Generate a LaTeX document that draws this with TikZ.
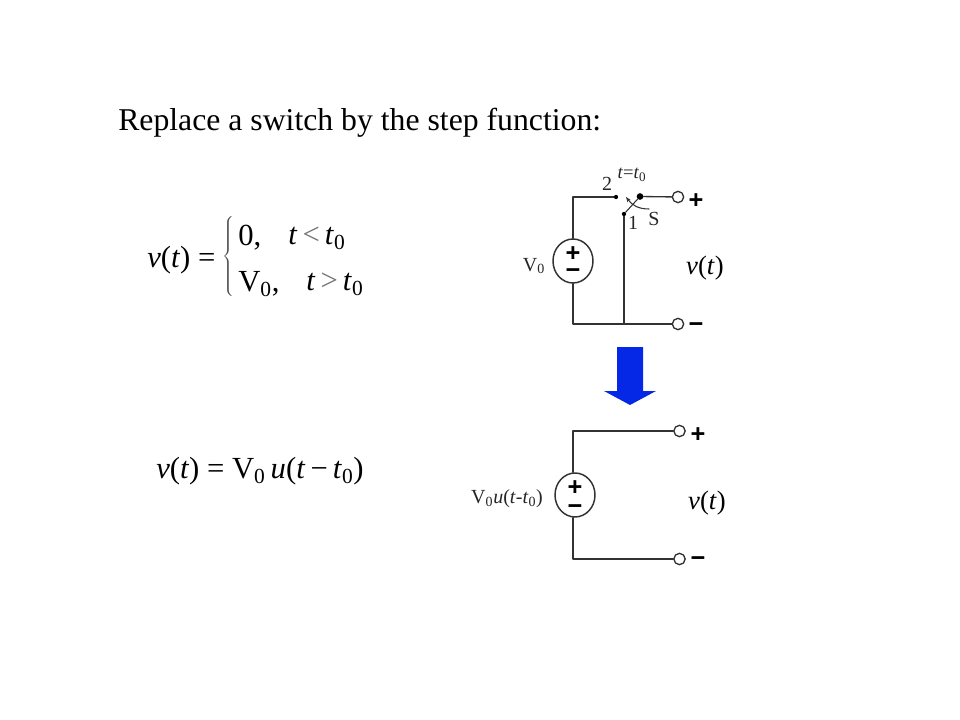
\documentclass[tikz,border=0pt]{standalone}
\usepackage{fontspec}
\setmainfont{Liberation Serif}
\newfontfamily\signfont{Liberation Sans}
\usetikzlibrary{shapes.geometric,arrows.meta}
\definecolor{wirecol}{RGB}{50,50,50}
\definecolor{arrowcol}{RGB}{4,40,230}
\newcommand{\vt}{\textit{v}(\textit{t})}
\newcommand{\tz}{\textit{t}\textsubscript{0}}
\newcommand{\Vz}{V\textsubscript{0}}
\tikzset{
  wire/.style={line width=1pt, color=wirecol},
  source/.style={ellipse, draw=wirecol, line width=1.1pt, fill=white, minimum width=30pt, minimum height=33pt, inner sep=0pt},
  terminal/.style={circle, draw=wirecol, line width=1pt, fill=white, minimum size=8.5pt, inner sep=0pt},
  contact/.style={circle, fill=black, inner sep=0pt},
  sign/.style={font=\signfont\bfseries\fontsize{19}{19}\selectfont, inner sep=0pt},
  smalltext/.style={color=black!85, inner sep=0pt},
  vlabel/.style={font=\fontsize{20}{20}\selectfont, inner sep=0pt},
  eqn/.style={font=\fontsize{23}{23}\selectfont, inner sep=0pt}
}
\begin{document}
\begin{tikzpicture}[line cap=round, line join=round, x=0.75pt, y=-0.75pt]
    \useasboundingbox (0,0) rectangle (960,720);
    % heading
    \node [font=\fontsize{23.8}{24}\selectfont, anchor=base west, inner sep=0pt] (title) at (118,130.5) {Replace a switch by the step function:};
    % piecewise equation
    \node [eqn, anchor=west] (lhsA) at (147,260) {\vt\ =};
    \node [inner sep=0pt, color=black!70] (brace) at (229,257) {\fontsize{24}{24}\selectfont$\left\{\vphantom{\rule{0pt}{36pt}}\right.$};
    \node [eqn, anchor=west] (caseA) at (238,238) {0,};
    \node [eqn, anchor=west] (condA) at (288,238) {\textit{t}\,{\color{black!55}<}\,\tz};
    \node [eqn, anchor=west] (caseB) at (238,284) {\Vz,};
    \node [eqn, anchor=west] (condB) at (306,284) {\textit{t}\,{\color{black!55}>}\,\tz};
    % step function equation
    \node [eqn, anchor=west] (lhsB) at (156,471) {\vt\ = \Vz\,\textit{u}(\textit{t}\,−\,\tz)};
    % switched circuit
    \node [source] (srcA) at (573,261) {};
    \node [sign] (srcAp) at (573,254) {+};
    \node [sign] (srcAm) at (573,274) {−};
    \node [terminal] (termAp) at (678,197) {};
    \node [terminal] (termAm) at (678,324) {};
    \node [contact, minimum size=3.2pt] (conTwo) at (616,197) {};
    \node [contact, minimum size=3.2pt] (conOne) at (624,214) {};
    \node [contact, minimum size=5pt] (pole) at (640,196.5) {};
    \coordinate (cornerAt) at (573,197);
    \coordinate (cornerAb) at (573,324);
    \coordinate (junc) at (624,324);
    \coordinate (sTail) at (649,209);
    \coordinate (sTip) at (626,197);
    \draw [wire] (srcA) -- (cornerAt) -- (conTwo);
    \draw [wire] (srcA) -- (cornerAb) -- (termAm);
    \draw [wire] (conOne) -- (junc);
    \draw [wire] (pole) -- (termAp);
    \draw [wire, line width=0.8pt] (conOne) -- (pole);
    \draw [wire, line width=0.8pt, -{Stealth[length=4pt,width=3pt]}] (sTail) .. controls (638,209) and (632,205) .. (sTip);
    \node [smalltext, font=\fontsize{15}{15}\selectfont] (lblV) at (534,266) {\Vz};
    \node [smalltext, font=\fontsize{15}{15}\selectfont] (lblTwo) at (607,184) {2};
    \node [smalltext, font=\fontsize{15}{15}\selectfont] (lblOne) at (633,223) {1};
    \node [smalltext, font=\fontsize{15}{15}\selectfont] (lblS) at (654,219) {S};
    \node [smalltext, font=\fontsize{14}{14}\selectfont] (lblT) at (632,175) {\textit{t}=\tz};
    \node [sign] (plusA) at (696,201) {+};
    \node [sign] (minusA) at (696,328) {−};
    \node [vlabel] (vA) at (705,268) {\vt};
    % big arrow
    \fill [arrowcol] (617,347) -- (643,347) -- (643,391) -- (656,391) -- (630,405) -- (604,391) -- (617,391) -- cycle;
    % equivalent circuit
    \node [source] (srcB) at (575,495) {};
    \node [sign] (srcBp) at (575,488.5) {+};
    \node [sign] (srcBm) at (575,510) {−};
    \node [terminal] (termBp) at (679.5,431) {};
    \node [terminal] (termBm) at (679.5,559) {};
    \coordinate (cornerBt) at (573,431);
    \coordinate (cornerBb) at (573,559);
    \draw [wire] (srcB.north -| cornerBt) -- (cornerBt) -- (termBp);
    \draw [wire] (srcB.south -| cornerBb) -- (cornerBb) -- (termBm);
    \node [smalltext, font=\fontsize{15}{15}\selectfont] (lblU) at (507,499) {\Vz\textit{u}(\textit{t}-\tz)};
    \node [sign] (plusB) at (698,435) {+};
    \node [sign] (minusB) at (698,562) {−};
    \node [vlabel] (vB) at (707,503) {\vt};
\end{tikzpicture}
\end{document}
